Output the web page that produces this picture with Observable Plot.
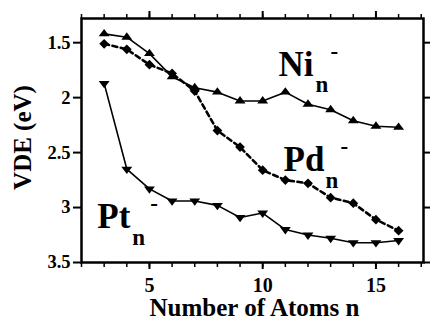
<!DOCTYPE html>
<html>
<head>
<meta charset="utf-8">
<script src="https://cdn.jsdelivr.net/npm/d3@7"></script>
<script src="https://cdn.jsdelivr.net/npm/@observablehq/plot@0.6"></script>
<style>
  html, body { margin: 0; padding: 0; background: #fff; }
  #chart svg { display: block; }
</style>
</head>
<body>
<div id="chart"></div>
<script>
// Cluster size n
const atoms = [3, 4, 5, 6, 7, 8, 9, 10, 11, 12, 13, 14, 15, 16];
// Vertical detachment energies (eV)
const niVDE = [1.42, 1.45, 1.60, 1.81, 1.91, 1.95, 2.03, 2.03, 1.95, 2.06, 2.11, 2.21, 2.26, 2.27];
const pdVDE = [1.51, 1.56, 1.70, 1.78, 1.94, 2.30, 2.45, 2.66, 2.75, 2.78, 2.91, 2.96, 3.11, 3.21];
const ptVDE = [1.87, 2.65, 2.83, 2.94, 2.94, 2.98, 3.09, 3.05, 3.20, 3.25, 3.28, 3.32, 3.32, 3.30];
// Axis ticks
const xMajorTicks = [5, 10, 15];
const xMinorTicks = [2, 3, 4, 5, 6, 7, 8, 9, 10, 11, 12, 13, 14, 15, 16, 17];
const yTicks = [1.5, 2, 2.5, 3, 3.5];
const yTickLabels = ["1.5", "2", "2.5", "3", "3.5"];
// Series labels
const seriesNames = ["Ni", "Pd", "Pt"];

const rows = (vals) => atoms.map((n, i) => ({n, v: vals[i]}));
const ni = rows(niVDE), pd = rows(pdVDE), pt = rows(ptVDE);

const triUp = {
  draw(ctx, size) {
    const r = Math.sqrt(size / Math.PI);
    const a = r * 1.3, h = r * 1.75;
    ctx.moveTo(0, -2 * h / 3);
    ctx.lineTo(a, h / 3);
    ctx.lineTo(-a, h / 3);
    ctx.closePath();
  }
};
const triDown = {
  draw(ctx, size) {
    const r = Math.sqrt(size / Math.PI);
    const a = r * 1.3, h = r * 1.75;
    ctx.moveTo(0, 2 * h / 3);
    ctx.lineTo(a, -h / 3);
    ctx.lineTo(-a, -h / 3);
    ctx.closePath();
  }
};

const font = "'Liberation Serif', Tinos, 'Times New Roman', 'DejaVu Serif', serif";
const big = {fontFamily: font, fontSize: 35, fontWeight: "bold", fill: "black", textAnchor: "start", lineAnchor: "bottom"};
const sub = {fontFamily: font, fontSize: 23, fontWeight: "bold", fill: "black", textAnchor: "start", lineAnchor: "bottom"};
const sup = {fontFamily: font, fontSize: 23, fontWeight: "900", fill: "black", textAnchor: "start", lineAnchor: "bottom"};

const labelPos = [
  {name: seriesNames[0], x: 10.70, y: 1.807, sx: 37, sy: 16, dx: 52},
  {name: seriesNames[1], x: 10.92, y: 2.666, sx: 42, sy: 17, dx: 57},
  {name: seriesNames[2], x: 2.70, y: 3.19, sx: 35, sy: 17, dx: 53}
];

const marks = [];
for (const L of labelPos) {
  marks.push(Plot.text([L], {x: "x", y: "y", text: "name", ...big}));
  marks.push(Plot.text([L], {x: "x", y: "y", text: () => "n", dx: L.sx, dy: L.sy, ...sub}));
  marks.push(Plot.text([L], {x: "x", y: "y", text: () => "-", dx: L.dx, dy: -17, ...sup}));
}

const chart = Plot.plot({
  width: 430,
  height: 320,
  marginLeft: 81,
  marginRight: 7,
  marginTop: 18,
  marginBottom: 58,
  style: {fontFamily: font, background: "white", color: "black", overflow: "visible"},
  x: {domain: [2, 17.1]},
  y: {domain: [1.28, 3.5], reverse: true},
  marks: [
    // axes
    Plot.axisX(xMinorTicks, {anchor: "bottom", tickSize: 5, strokeWidth: 1.5, tickFormat: () => "", label: null}),
    Plot.axisX(xMajorTicks, {anchor: "bottom", tickSize: 7, tickPadding: 8, strokeWidth: 2, fontFamily: font, fontSize: 20, fontWeight: "bold", tickFormat: d => String(d), label: null}),
    Plot.axisX(xMinorTicks, {anchor: "top", tickSize: 5, strokeWidth: 1.5, tickFormat: () => "", label: null}),
    Plot.axisX(xMajorTicks, {anchor: "top", tickSize: 8, strokeWidth: 2, tickFormat: () => "", label: null}),
    Plot.axisY(yTicks, {anchor: "left", tickSize: 8, tickPadding: 3, strokeWidth: 2, fontFamily: font, fontSize: 18.5, fontWeight: "bold", tickFormat: d => yTickLabels[yTicks.indexOf(d)], label: null}),
    Plot.axisY(yTicks, {anchor: "right", tickSize: 7, strokeWidth: 2, tickFormat: () => "", label: null}),
    Plot.frame({stroke: "black", strokeWidth: 2.5}),
    // axis titles
    Plot.text(["VDE (eV)"], {frameAnchor: "left", textAnchor: "middle", lineAnchor: "middle", dx: -59, dy: -3, rotate: -90, fontFamily: font, fontSize: 25, fontWeight: "bold", fill: "black"}),
    Plot.text(["Number of Atoms n"], {frameAnchor: "bottom", textAnchor: "middle", dy: 53, dx: 2, lineAnchor: "bottom", fontFamily: font, fontSize: 25, fontWeight: "bold", fill: "black"}),
    // series
    Plot.line(ni, {x: "n", y: "v", stroke: "black", strokeWidth: 1.6}),
    Plot.dot(ni, {x: "n", y: "v", symbol: triUp, r: 4.2, fill: "black", stroke: "none"}),
    Plot.line(pd, {x: "n", y: "v", stroke: "black", strokeWidth: 2.6, strokeDasharray: "5,3.5"}),
    Plot.dot(pd, {x: "n", y: "v", symbol: "diamond2", r: 4.4, fill: "black", stroke: "none"}),
    Plot.line(pt, {x: "n", y: "v", stroke: "black", strokeWidth: 1.6}),
    Plot.dot(pt, {x: "n", y: "v", symbol: triDown, r: 4.2, fill: "black", stroke: "none"}),
    ...marks
  ]
});
document.getElementById("chart").appendChild(chart);
</script>
</body>
</html>
